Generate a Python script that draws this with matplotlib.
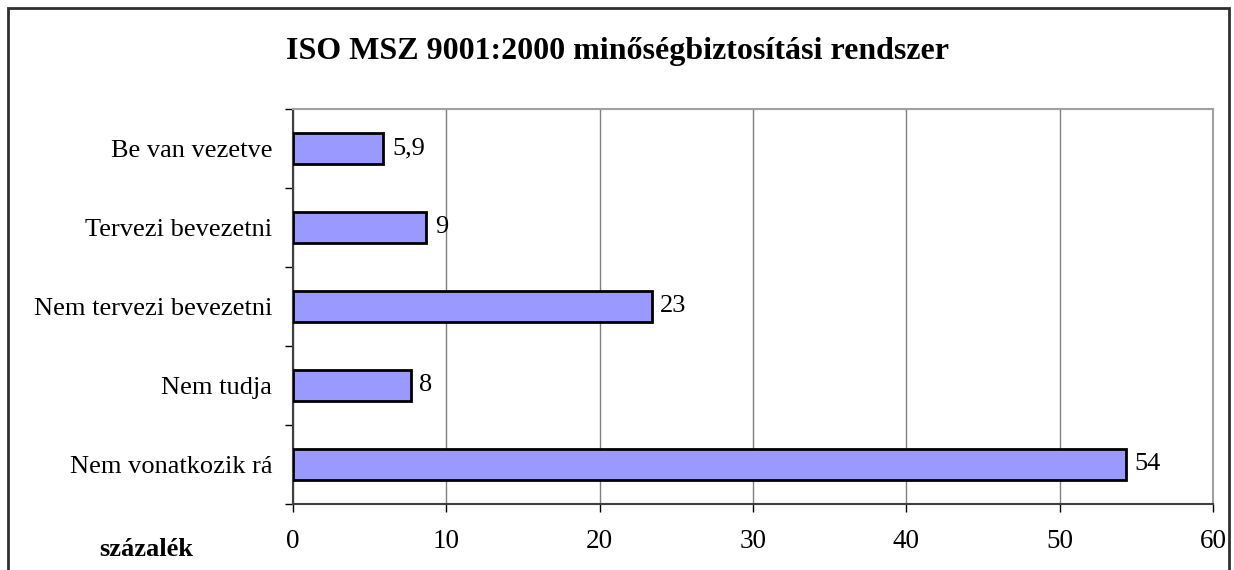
import numpy as np
import matplotlib.pyplot as plt
from matplotlib.patches import Rectangle

# Adatok (felülről lefelé)
kategoriak = ["Be van vezetve", "Tervezi bevezetni", "Nem tervezi bevezetni",
              "Nem tudja", "Nem vonatkozik rá"]
ertekek = [5.9, 8.7, 23.4, 7.7, 54.3]
cimkek = ["5,9", "9", "23", "8", "54"]
x_tickek = [0, 10, 20, 30, 40, 50, 60]

plt.rcParams['font.family'] = ['Liberation Serif', 'DejaVu Serif']

fig = plt.figure(figsize=(12.34, 5.70), dpi=100)
ax = fig.add_axes([293/1234, 1-504/570, 920/1234, 395/570])

y = np.arange(len(kategoriak))[::-1]
ax.barh(y, ertekek, height=0.4, color='#9999FF', edgecolor='black', linewidth=2, zorder=3)

for yi, v, c in zip(y, ertekek, cimkek):
    ax.text(v + 0.55, yi, c, va='center', ha='left', fontsize=19, zorder=4)

ax.set_xlim(0, 60)
ax.set_ylim(-0.5, len(kategoriak) - 0.5)
ax.set_xticks(x_tickek)
ax.set_xticklabels([str(t) for t in x_tickek], fontsize=19.5)
ax.set_yticks(y)
ax.set_yticklabels(kategoriak, fontsize=19)
ax.set_yticks(np.arange(-0.5, len(kategoriak)), minor=True)
ax.tick_params(axis='y', which='major', length=0, pad=15)
ax.tick_params(axis='y', which='minor', length=6, width=1, color='black', direction='out')
ax.tick_params(axis='x', which='major', length=6, width=1, color='black', direction='out', pad=12)

ax.grid(axis='x', color='#808080', linewidth=1, zorder=0)
for s in ['top', 'right']:
    ax.spines[s].set_color('#a0a0a0')
    ax.spines[s].set_linewidth(1.5)
for s in ['left', 'bottom']:
    ax.spines[s].set_color('#404040')
    ax.spines[s].set_linewidth(1.5)

fig.text(618/1234, 1-52/570, "ISO MSZ 9001:2000 minőségbiztosítási rendszer",
         ha='center', va='center', fontsize=23, fontweight='bold')
fig.text(146/1234, 1-550/570, "százalék", ha='center', va='center',
         fontsize=19, fontweight='bold')

# külső keret
fig.patches.append(Rectangle((8/1234, -0.05), 1221/1234, 1.05 - 8/570,
                             transform=fig.transFigure, fill=False,
                             edgecolor='#303030', linewidth=2))

plt.savefig("out.png", dpi=100)
